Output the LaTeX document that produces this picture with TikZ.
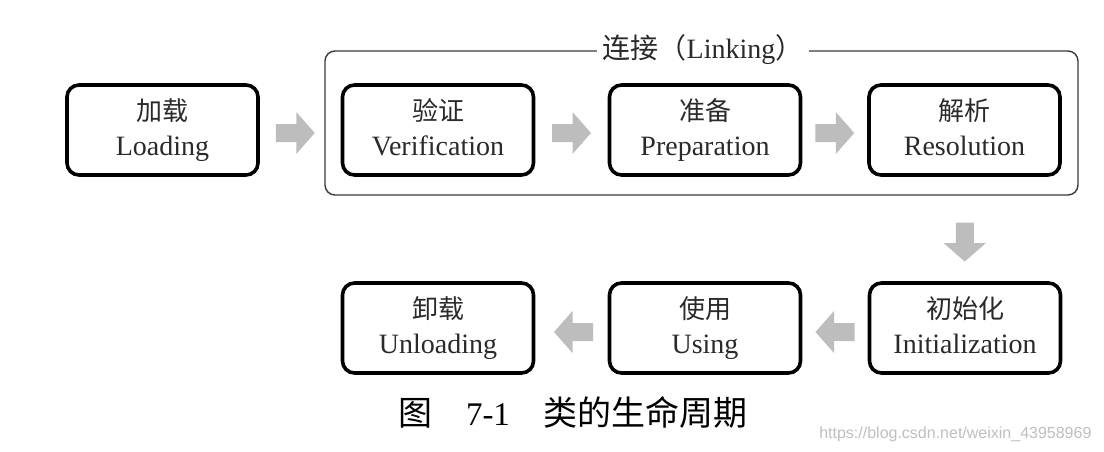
\documentclass[tikz,border=0pt]{standalone}
\usepackage{fontspec}
\setmainfont{Liberation Serif}
\newfontfamily\cjk{Noto Sans CJK SC}
\newfontfamily\wmfont{Liberation Sans}
\usetikzlibrary{calc}
\definecolor{arrowgray}{HTML}{BDBDBD}
\definecolor{txt}{HTML}{2A2A2A}
\definecolor{framec}{HTML}{3A3A3A}
\tikzset{
  stage/.style={draw=black, line width=3.6pt, rounded corners=12pt,
    minimum width=191pt, minimum height=90pt, align=center, text=txt,
    inner sep=0pt, font=\fontsize{28}{35}\selectfont},
  linkframe/.style={draw=framec, line width=1.4pt, rounded corners=10pt},
  blockarr/.pic={\fill[arrowgray] (-19.5,-9) -- (1,-9) -- (1,-21) -- (19.5,0)
      -- (1,21) -- (1,9) -- (-19.5,9) -- cycle;},
}
\newcommand{\st}[2]{{\cjk\fontsize{26}{35}\selectfont\vphantom{国}#1}\\{\vphantom{Lg}#2}}
\begin{document}
\begin{tikzpicture}[x=1pt,y=-1pt]
\fill[white] (0,0) rectangle (1104,452);
\useasboundingbox (0,0) rectangle (1104,452);
% linking frame
\coordinate (lf1) at (325,51);
\coordinate (lf2) at (1078,195);
\draw[linkframe] (lf1) rectangle (lf2);
\node[fill=white, inner xsep=6pt, inner ysep=2pt, text=txt, font=\fontsize{28}{28}\selectfont] (link) at (703,50) {{\cjk 连接（}Linking{\cjk ）}};
% stages
\node[stage] (load) at (162.5,130) {\st{加载}{Loading}};
\node[stage] (ver) at (438,130) {\st{验证}{Verification}};
\node[stage] (prep) at (705,130) {\st{准备}{Preparation}};
\node[stage] (res) at (964.5,130) {\st{解析}{Resolution}};
\node[stage] (init) at (965,328) {\st{初始化}{Initialization}};
\node[stage] (use) at (705,328) {\st{使用}{Using}};
\node[stage] (unl) at (438,328) {\st{卸载}{Unloading}};
% arrows
\pic at ($(load.east)!0.5!(ver.west)+(-5,3)$) {blockarr};
\pic at ($(ver.east)!0.5!(prep.west)+(0,3)$) {blockarr};
\pic at ($(prep.east)!0.5!(res.west)+(0,3)$) {blockarr};
\pic[rotate=-90] at ($(res.south |- lf2)!0.5!(init.north)+(0,4)$) {blockarr};
\pic[rotate=180] at ($(init.west)!0.5!(use.east)+(0,4)$) {blockarr};
\pic[rotate=180] at ($(use.west)!0.5!(unl.east)+(2,4)$) {blockarr};
% caption
\node[text=black, font=\fontsize{33}{33}\selectfont, anchor=base] (cap) at (573,425)
  {{\cjk\fontsize{34}{34}\selectfont 图}\hspace{34pt}7-1\hspace{34pt}{\cjk\fontsize{34}{34}\selectfont 类的生命周期}};
\node[text=black!25, font=\wmfont\fontsize{16}{16}\selectfont, anchor=base east] (wm) at (1095,438)
  {https://blog.csdn.net/weixin\_43958969};
\end{tikzpicture}
\end{document}
